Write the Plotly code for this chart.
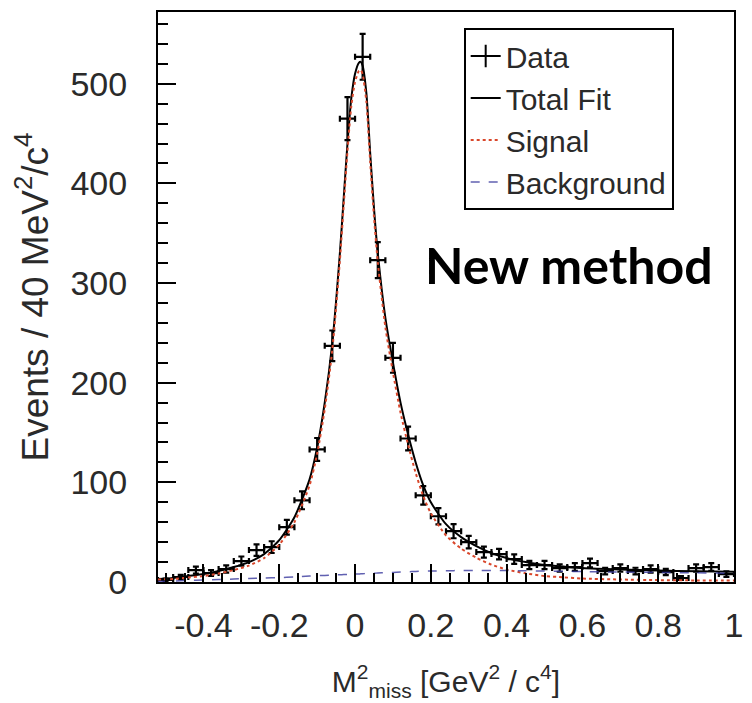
import plotly.graph_objects as go

# ---- Data ----
bin_centers = [-0.50, -0.46, -0.42, -0.38, -0.34, -0.30, -0.26, -0.22, -0.18, -0.14,
               -0.10, -0.06, -0.02, 0.02, 0.06, 0.10, 0.14, 0.18, 0.22, 0.26,
               0.30, 0.34, 0.38, 0.42, 0.46, 0.50, 0.54, 0.58, 0.62, 0.66,
               0.70, 0.74, 0.78, 0.82, 0.86, 0.90, 0.94, 0.98]
counts = [2, 5, 12, 9, 13, 21, 32, 35, 55, 82,
          133, 237, 465, 527, 323, 225, 144, 87, 66, 51,
          40, 30, 28, 23, 17, 17, 14, 15, 19, 11,
          14, 11, 13, 10, 4, 14, 15, 8]
count_errors = [1.4, 2.2, 3.5, 3.0, 3.6, 4.6, 5.7, 5.9, 7.4, 9.0,
                11.5, 15.4, 21.6, 23.0, 18.0, 15.0, 12.0, 9.3, 8.1, 7.1,
                6.3, 5.5, 5.3, 4.8, 4.1, 4.1, 3.7, 3.9, 4.4, 3.3,
                3.7, 3.3, 3.6, 3.2, 2.0, 3.7, 3.9, 2.8]
bin_half_width = 0.02

fit_x = [-0.52, -0.48, -0.44, -0.40, -0.36, -0.32, -0.28, -0.24, -0.20, -0.16,
         -0.12, -0.10, -0.08, -0.06, -0.04, -0.03, -0.02, -0.01, 0.0, 0.01,
         0.015, 0.02, 0.03, 0.04, 0.05, 0.06, 0.08, 0.10, 0.12, 0.14,
         0.16, 0.18, 0.20, 0.24, 0.28, 0.32, 0.36, 0.40, 0.45, 0.50,
         0.55, 0.60, 0.70, 0.80, 0.90, 1.0]
total_fit = [3, 4, 6, 8, 11, 15, 20, 28, 42, 65,
             103, 135, 180, 240, 330, 385, 440, 485, 510, 521,
             522, 518, 490, 430, 375, 330, 265, 220, 180, 148,
             120, 97, 80, 58, 45, 36, 29, 24, 20, 17,
             15.5, 14, 12.5, 11.5, 10.8, 10.2]
background = [0.5, 1, 1.5, 2, 2.5, 3, 3.5, 4, 4.5, 5,
              6, 6.3, 6.6, 7, 7.3, 7.5, 7.6, 7.8, 8, 8.1,
              8.2, 8.3, 8.5, 8.6, 8.8, 9, 9.3, 9.6, 10, 10.3,
              10.6, 10.8, 11, 11.3, 11.5, 11.6, 11.6, 11.5, 11.3, 11,
              10.8, 10.5, 10, 9.6, 9.2, 8.8]
signal = [2.5, 3, 4.5, 6, 8.5, 12, 16.5, 24, 37.5, 60,
          97, 128.7, 173.4, 233, 322.7, 377.5, 432.4, 477.2, 502, 512.9,
          513.8, 509.7, 481.5, 421.4, 366.2, 321, 255.7, 210.4, 170, 137.7,
          109.4, 86.2, 69, 46.7, 33.5, 24.4, 17.4, 12.5, 8.7, 6,
          4.7, 3.5, 2.5, 1.9, 1.6, 1.4]

x_tickvals = [-0.4, -0.2, 0, 0.2, 0.4, 0.6, 0.8, 1.0]
x_ticktext = ["-0.4", "-0.2", "0", "0.2", "0.4", "0.6", "0.8", "1"]
y_tickvals = [0, 100, 200, 300, 400, 500]

FONT = "Liberation Sans, Arial, sans-serif"
TXT = "#2a2a2a"

fig = go.Figure()

# Data points: horizontal bar = bin width, vertical bar = statistical error
fig.add_trace(go.Scatter(
    x=bin_centers, y=counts, mode="markers", name="Data",
    legendgroup="data", showlegend=False,
    marker=dict(size=1, color="black"),
    error_y=dict(type="data", array=count_errors, visible=True,
                 color="black", thickness=2.2, width=3),
    error_x=dict(type="constant", value=bin_half_width, visible=True,
                 color="black", thickness=2.2, width=3),
))
# legend entry for the data (a cross symbol, as in the reference)
fig.add_trace(go.Scatter(
    x=[None], y=[None], mode="lines+markers", name="Data",
    legendgroup="data",
    line=dict(color="black", width=2),
    marker=dict(symbol="line-ns", size=16, color="black",
                line=dict(color="black", width=2)),
))
fig.add_trace(go.Scatter(
    x=fit_x, y=total_fit, mode="lines", name="Total Fit",
    line=dict(color="black", width=2, shape="spline", smoothing=0.6),
))
fig.add_trace(go.Scatter(
    x=fit_x, y=signal, mode="lines", name="Signal",
    line=dict(color="#d9472b", width=2, dash="dot", shape="spline", smoothing=0.6),
))
fig.add_trace(go.Scatter(
    x=fit_x, y=background, mode="lines", name="Background",
    line=dict(color="#3a3a9e", width=1.5, dash="dash", shape="spline", smoothing=0.6),
    opacity=0.8,
))

fig.update_layout(
    width=752, height=703,
    margin=dict(l=158, r=9, t=12, b=121),
    paper_bgcolor="white", plot_bgcolor="white",
    font=dict(family=FONT, color=TXT, size=34),
    showlegend=True,
    legend=dict(
        x=0.713, y=0.972, xanchor="center", yanchor="top",
        bgcolor="white", bordercolor="black", borderwidth=2,
        font=dict(family=FONT, size=30, color=TXT),
        tracegroupgap=0, itemwidth=30,
    ),
    annotations=[dict(
        text="<b>New method</b>", x=0.713, y=0.556, xref="paper", yref="paper",
        xanchor="center", yanchor="middle", showarrow=False,
        font=dict(family="Lato, Open Sans, sans-serif", size=50, color="black"),
    )],
)

fig.update_xaxes(
    range=[-0.52, 1.0], showgrid=False, zeroline=False,
    showline=True, linecolor="black", linewidth=2, mirror=True,
    ticks="inside", ticklen=18, tickwidth=2, tickcolor="black",
    tickvals=x_tickvals, ticktext=x_ticktext,
    tickfont=dict(family=FONT, size=34, color=TXT),
    ticklabelstandoff=12,
    minor=dict(ticks="inside", ticklen=9, tickwidth=2, tickcolor="black",
               dtick=0.05, tick0=0, showgrid=False),
    title=dict(text="M<sup>2</sup><sub>miss</sub> [GeV<sup>2</sup> / c<sup>4</sup>]",
               font=dict(family=FONT, size=30, color=TXT), standoff=28),
)
fig.update_yaxes(
    range=[0, 572], showgrid=False, zeroline=False,
    showline=True, linecolor="black", linewidth=2, mirror=True,
    ticks="inside", ticklen=18, tickwidth=2, tickcolor="black",
    tickvals=y_tickvals,
    tickfont=dict(family=FONT, size=34, color=TXT),
    ticklabelstandoff=22,
    minor=dict(ticks="inside", ticklen=10, tickwidth=2, tickcolor="black",
               dtick=20, tick0=0, showgrid=False),
    title=dict(text="Events / 40 MeV<sup>2</sup>/c<sup>4</sup>",
               font=dict(family=FONT, size=37, color=TXT), standoff=11),
)

fig.write_html("out.html")
